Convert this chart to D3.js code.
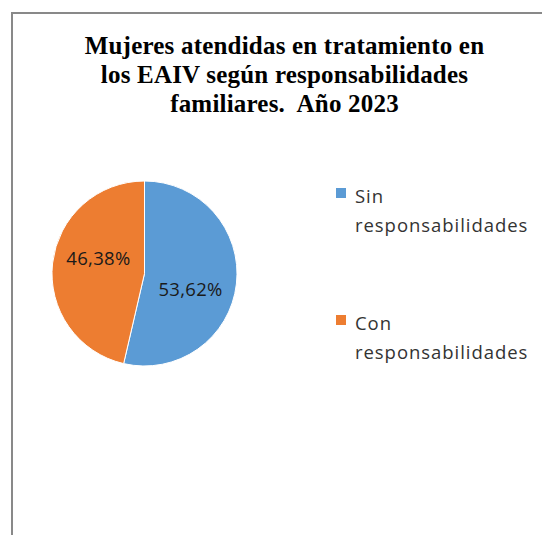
<!DOCTYPE html>
<html><head><meta charset="utf-8">
<script src="https://cdn.jsdelivr.net/npm/d3@7"></script>
<style>html,body{margin:0;padding:0;background:#fff;}svg{display:block;}</style>
</head><body>
<script>
const categories = ["Sin responsabilidades", "Con responsabilidades"];
const legendLines = [["Sin", "responsabilidades"], ["Con", "responsabilidades"]];
const values = [53.62, 46.38];
const valueLabels = ["53,62%", "46,38%"];
const titleLines = ["Mujeres atendidas en tratamiento en", "los EAIV según responsabilidades", "familiares.  Año 2023"];
const colors = ["#5B9BD5", "#ED7D31"];

const W = 542, H = 535;
const svg = d3.select("body").append("svg").attr("width", W).attr("height", H);

// frame
svg.append("path").attr("d", "M12,535 V13 H542").attr("fill", "none")
  .attr("stroke", "#898989").attr("stroke-width", 2);

// title
svg.append("g").selectAll("text").data(titleLines).join("text")
  .attr("x", 284.5).attr("y", (d, i) => 53.5 + i * 29)
  .attr("text-anchor", "middle")
  .style("font-family", "'Liberation Serif', serif").style("font-weight", "bold")
  .style("font-size", "25px").style("letter-spacing", "0.2px").attr("fill", "#000")
  .style("white-space", "pre")
  .text(d => d);

// pie
const cx = 144.5, cy = 273.5, r = 92.5;
const pie = d3.pie().sort(null).value(d => d);
const arcs = pie(values);
const arc = d3.arc().innerRadius(0).outerRadius(r);
const g = svg.append("g").attr("transform", `translate(${cx},${cy})`);
g.selectAll("path").data(arcs).join("path")
  .attr("d", arc).attr("fill", (d, i) => colors[i])
  .attr("stroke", "#fff").attr("stroke-width", 1);

const labelR = r * 0.525, shift = 0.21;
g.selectAll("text.v").data(arcs).join("text").attr("class", "v")
  .attr("transform", d => {
    const a = (d.startAngle + d.endAngle) / 2 + shift;
    return `translate(${labelR * Math.sin(a)},${-labelR * Math.cos(a) + 7})`;
  })
  .attr("text-anchor", "middle")
  .style("font-family", "'Open Sans', sans-serif").style("font-size", "18.5px")
  .style("letter-spacing", "0.3px")
  .attr("fill", "#1a1a1a")
  .text((d, i) => valueLabels[i]);

// legend
const lg = svg.append("g");
const items = lg.selectAll("g").data(categories).join("g")
  .attr("transform", (d, i) => `translate(336, ${188 + i * 127})`);
items.append("rect").attr("width", 10).attr("height", 10).attr("fill", (d, i) => colors[i]);
items.each(function(d, i) {
  d3.select(this).selectAll("text").data(legendLines[i]).join("text")
    .attr("x", 19).attr("y", (t, j) => 15 + j * 28.5)
    .style("font-family", "'Open Sans', sans-serif").style("font-size", "18.5px")
    .style("letter-spacing", "0.95px")
    .attr("fill", "#333")
    .text(t => t);
});
</script>
</body></html>
